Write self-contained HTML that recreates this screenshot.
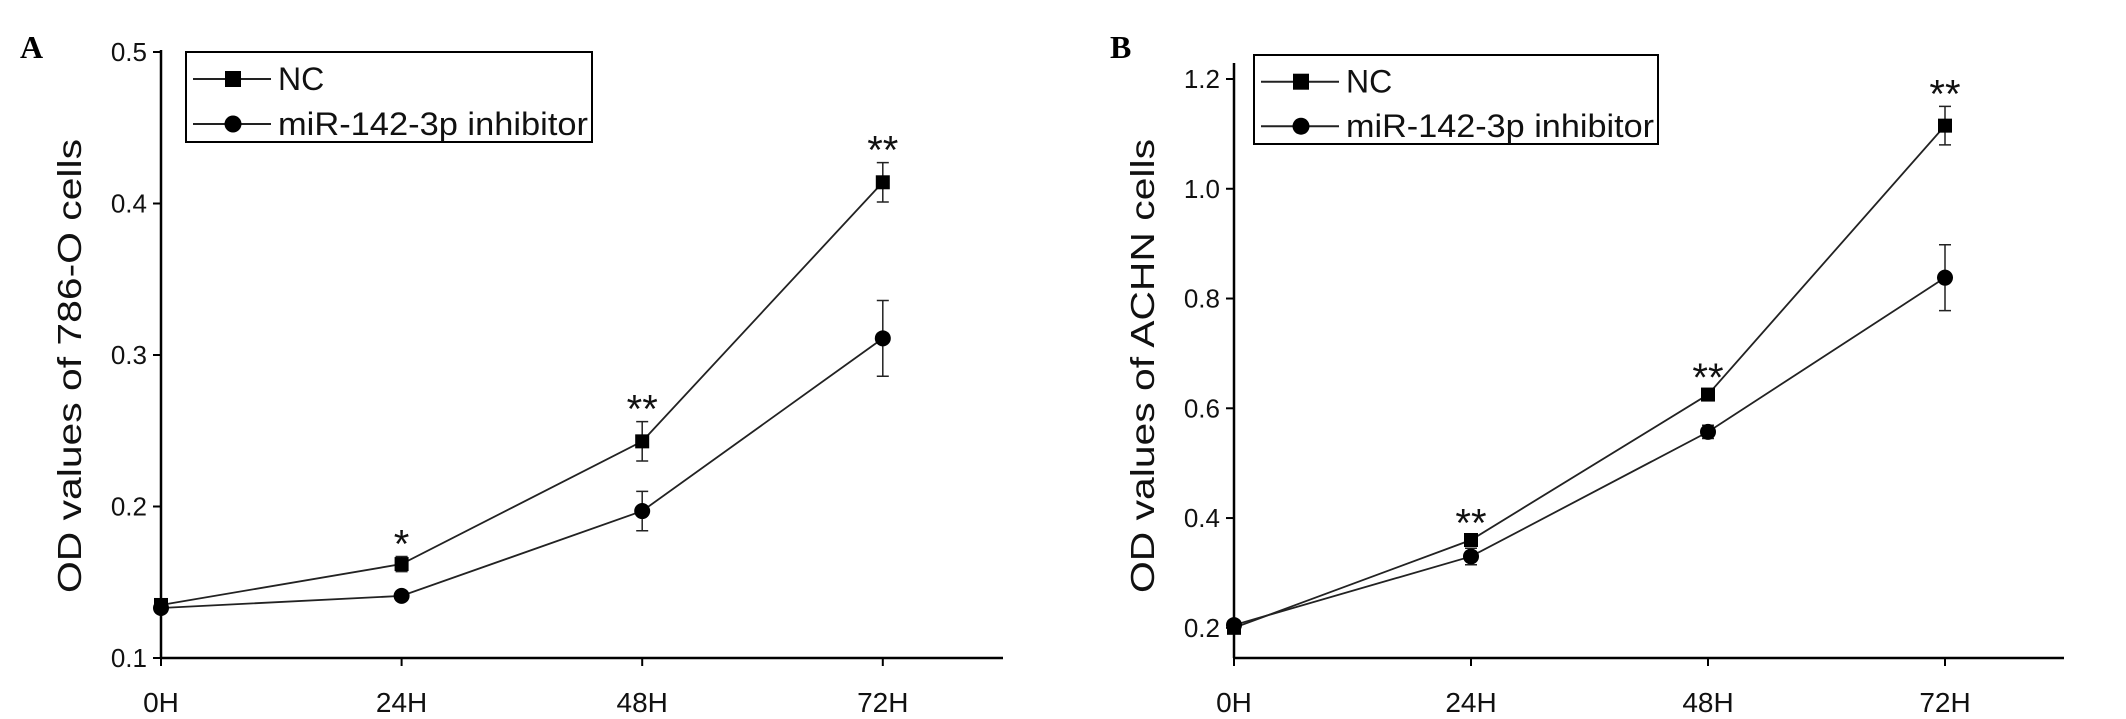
<!DOCTYPE html>
<html><head><meta charset="utf-8"><style>
body{margin:0;background:#fff}
svg{display:block}
.tk{font-family:"Liberation Sans Narrow","Liberation Sans",sans-serif;font-size:26px;fill:#111}
.lg{font-family:"Liberation Sans Narrow","Liberation Sans",sans-serif;font-size:32px;fill:#111}
.tt{font-family:"Liberation Sans",sans-serif;font-size:33px;fill:#111}
.pl{font-family:"Liberation Serif",serif;font-size:32px;font-weight:bold;fill:#000}
.st{font-family:"Liberation Sans",sans-serif;font-size:40px;fill:#111}
</style></head><body>
<svg id="c" width="2126" height="719" xmlns="http://www.w3.org/2000/svg"></svg>
<script>
const categories=["0H","24H","48H","72H"];
const aNC=[0.135,0.162,0.243,0.414];
const aNCerr=[0.003,0.005,0.013,0.013];
const aInh=[0.133,0.141,0.197,0.311];
const aInherr=[0.003,0.003,0.013,0.025];
const aStars=["","*","**","**"];
const aTicks=[0.1,0.2,0.3,0.4,0.5];
const bNC=[0.20,0.36,0.625,1.115];
const bNCerr=[0.005,0.008,0.008,0.035];
const bInh=[0.205,0.33,0.557,0.838];
const bInherr=[0.005,0.015,0.012,0.06];
const bStars=["","**","**","**"];
const bTicks=[0.2,0.4,0.6,0.8,1.0,1.2];
const svg=document.getElementById('c');
const NS="http://www.w3.org/2000/svg";
function mk(tag,attrs,parent,txt){const e=document.createElementNS(NS,tag);for(const k in attrs)e.setAttribute(k,attrs[k]);if(txt!==undefined)e.textContent=txt;(parent||svg).appendChild(e);return e;}
function panel(o){
  const g=mk('g',{});
  
  
  const X=i=>o.x0+i*o.dx;
  const Y=v=>o.yb-(v-o.ymin)/(o.ymax-o.ymin)*(o.yb-o.yt);
  let e=mk('line',{x1:o.x0,y1:o.yt-2,x2:o.x0,y2:o.yb,stroke:'#000','stroke-width':2.5},g);
  
  e=mk('line',{x1:o.x0,y1:o.yb,x2:o.xe,y2:o.yb,stroke:'#000','stroke-width':2.5},g);
  
  o.ticks.forEach(t=>{
    mk('line',{x1:o.x0-8,y1:Y(t),x2:o.x0,y2:Y(t),stroke:'#000','stroke-width':2},g);
    e=mk('text',{x:o.x0-14,y:Y(t)+9,'text-anchor':'end',class:'tk'},g,t.toFixed(1));
    
  });
  categories.forEach((c,i)=>{
    mk('line',{x1:X(i),y1:o.yb,x2:X(i),y2:o.yb+8,stroke:'#000','stroke-width':2},g);
    e=mk('text',{x:X(i),y:712,'text-anchor':'middle',class:'tk',style:'font-size:28px'},g,c);
    
  });
  e=mk('text',{transform:`translate(${o.x0-80},${o.tcy}) rotate(-90)`,'text-anchor':'middle',class:'tt',textLength:o.tlen,lengthAdjust:'spacingAndGlyphs'},g,o.title);
  
  e=mk('text',{x:o.lx,y:o.ly,class:'pl'},g,o.id);
  
  function series(vals,errs,shape,name){
    const sg=mk('g',{},g);
    
    mk('polyline',{points:vals.map((v,i)=>X(i)+','+Y(v)).join(' '),fill:'none',stroke:'#222','stroke-width':1.8},sg);
    vals.forEach((v,i)=>{
      const x=X(i),y1=Y(v+errs[i]),y2=Y(v-errs[i]);
      mk('path',{d:`M${x},${y1}V${y2}M${x-6},${y1}H${x+6}M${x-6},${y2}H${x+6}`,stroke:'#222','stroke-width':1.5,fill:'none'},sg);
      const m=shape==='sq'?mk('rect',{x:x-7,y:Y(v)-7,width:14,height:14,fill:'#000'},sg):mk('circle',{cx:x,cy:Y(v),r:8,fill:'#000'},sg);
      
    });
  }
  series(o.nc,o.ncErr,'sq','nc-series');
  series(o.inh,o.inhErr,'ci','inhibitor-series');
  o.stars.forEach((s,i)=>{if(!s)return;
    const top=Math.max(o.nc[i]+o.ncErr[i],o.inh[i]+o.inhErr[i]);
    e=mk('text',{x:X(i),y:Y(top)+1,'text-anchor':'middle',class:'st'},g,s);
    
  });
  const L=o.leg;
  const lg=mk('g',{},g);
  
  mk('rect',{x:L[0],y:L[1],width:L[2]-L[0],height:L[3]-L[1],fill:'#fff',stroke:'#000','stroke-width':2},lg);
  const r1=L[1]+(L[3]-L[1])*0.3,r2=L[1]+(L[3]-L[1])*0.8;
  mk('line',{x1:L[0]+7,y1:r1,x2:L[0]+85,y2:r1,stroke:'#222','stroke-width':2},lg);
  mk('rect',{x:L[0]+39,y:r1-8,width:16,height:16,fill:'#000'},lg);
  mk('line',{x1:L[0]+7,y1:r2,x2:L[0]+85,y2:r2,stroke:'#222','stroke-width':2},lg);
  mk('circle',{cx:L[0]+47,cy:r2,r:8.5,fill:'#000'},lg);
  e=mk('text',{x:L[0]+92,y:r1+11,class:'lg'},lg,'NC');
  
  e=mk('text',{x:L[0]+92,y:r2+11,class:'lg',textLength:L[2]-L[0]-96,lengthAdjust:'spacingAndGlyphs'},lg,'miR-142-3p inhibitor');
  
}
panel({id:'A',x0:161,xe:1003,dx:240.6,yt:52,yb:658,ymin:0.1,ymax:0.5,ticks:aTicks,nc:aNC,ncErr:aNCerr,inh:aInh,inhErr:aInherr,stars:aStars,
  title:'OD values of 786-O cells',tcy:366,tlen:454,lx:20,ly:58,leg:[186,52,592,142]});
panel({id:'B',x0:1234,xe:2064,dx:237,yt:65,yb:658,ymin:0.145,ymax:1.2255,ticks:bTicks,nc:bNC,ncErr:bNCerr,inh:bInh,inhErr:bInherr,stars:bStars,
  title:'OD values of ACHN cells',tcy:366,tlen:454,lx:1110,ly:58,leg:[1254,55,1658,144]});
</script>
</body></html>
